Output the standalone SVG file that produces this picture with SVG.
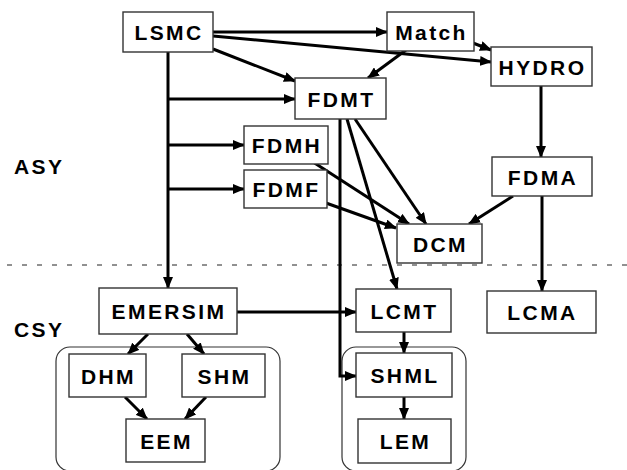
<svg xmlns="http://www.w3.org/2000/svg" width="627" height="470" viewBox="0 0 627 470">
<defs>
<marker id="ah" markerUnits="userSpaceOnUse" markerWidth="12" markerHeight="10" refX="11" refY="5" orient="auto">
<path d="M0,0 L12,5 L0,10 z" fill="#000"/>
</marker>
<style>
.box{fill:#fff;stroke:#333;stroke-width:1.4}
.grp{fill:none;stroke:#333;stroke-width:1.2}
.t{font-family:"Liberation Sans",Arial,sans-serif;font-weight:bold;font-size:21px;letter-spacing:2.4px;text-anchor:middle;fill:#000}
.lbl{font-family:"Liberation Sans",Arial,sans-serif;font-weight:bold;font-size:21px;letter-spacing:2.4px;fill:#000}
.c{fill:none;stroke:#000;stroke-width:3}
.a{marker-end:url(#ah)}
</style>
</defs>
<rect width="627" height="470" fill="#fff"/>
<line x1="7" y1="265" x2="627" y2="265" stroke="#222" stroke-width="1" stroke-dasharray="5 10"/>
<text class="lbl" x="14" y="174">ASY</text>
<text class="lbl" x="14" y="337">CSY</text>
<g id="group-left"><rect class="grp" x="56" y="347" width="224" height="124" rx="14"/></g>
<g id="group-right"><rect class="grp" x="342" y="347" width="124" height="124" rx="14"/></g>
<g id="connectors">
<path class="c a" d="M213,32 L387,32"/>
<path class="c a" d="M213,36 L491,62"/>
<path class="c a" d="M213,49 L295,81"/>
<path class="c a" d="M406,50 L368,78"/>
<path class="c a" d="M473,43 L491,50"/>
<path class="c a" d="M168,52 L168,288"/>
<path class="c a" d="M168,99 L295,99"/>
<path class="c a" d="M168,145 L244,145"/>
<path class="c a" d="M168,189 L244,189"/>
<path class="c a" d="M340,119 L340,376 L356,376"/>
<path class="c a" d="M347,119 L397,289"/>
<path class="c a" d="M355,119 L426,224"/>
<path class="c a" d="M313,162 L409,224"/>
<path class="c a" d="M326,203 L396,228"/>
<path class="c a" d="M513,196 L469,224"/>
<path class="c a" d="M541,86 L541,157"/>
<path class="c a" d="M542,196 L542,291"/>
<path class="c a" d="M237,312 L356,312"/>
<path class="c a" d="M148,334 L128,354"/>
<path class="c a" d="M187,334 L204,354"/>
<path class="c a" d="M125,397 L147,419"/>
<path class="c a" d="M206,397 L185,419"/>
<path class="c a" d="M404,332 L404,353"/>
<path class="c a" d="M404,397 L404,419"/>
</g>
<g id="LSMC"><rect class="box" x="123" y="12" width="90" height="40"/><text class="t" x="169" y="39.5">LSMC</text></g>
<g id="Match"><rect class="box" x="387" y="12" width="87" height="39"/><text class="t" x="431.5" y="39.5">Match</text></g>
<g id="HYDRO"><rect class="box" x="491" y="47" width="101" height="39"/><text class="t" x="542.5" y="74.5">HYDRO</text></g>
<g id="FDMT"><rect class="box" x="295" y="78" width="91" height="41"/><text class="t" x="341.5" y="106.5">FDMT</text></g>
<g id="FDMH"><rect class="box" x="244" y="126" width="84" height="38"/><text class="t" x="287" y="152.5">FDMH</text></g>
<g id="FDMF"><rect class="box" x="244" y="170" width="83" height="38"/><text class="t" x="286.5" y="196.5">FDMF</text></g>
<g id="FDMA"><rect class="box" x="492" y="157" width="100" height="39"/><text class="t" x="543" y="184.5">FDMA</text></g>
<g id="DCM"><rect class="box" x="397" y="224" width="85" height="39"/><text class="t" x="440.5" y="251.5">DCM</text></g>
<g id="EMERSIM"><rect class="box" x="99" y="288" width="138" height="46"/><text class="t" x="169" y="318.5">EMERSIM</text></g>
<g id="LCMT"><rect class="box" x="356" y="289" width="95" height="43"/><text class="t" x="404.5" y="318.5">LCMT</text></g>
<g id="LCMA"><rect class="box" x="487" y="291" width="109" height="42"/><text class="t" x="542.5" y="319.5">LCMA</text></g>
<g id="DHM"><rect class="box" x="69" y="354" width="77" height="43"/><text class="t" x="108.5" y="383.5">DHM</text></g>
<g id="SHM"><rect class="box" x="182" y="354" width="83" height="43"/><text class="t" x="224.5" y="383.5">SHM</text></g>
<g id="EEM"><rect class="box" x="126" y="419" width="79" height="43"/><text class="t" x="166.5" y="448.5">EEM</text></g>
<g id="SHML"><rect class="box" x="356" y="353" width="96" height="44"/><text class="t" x="405" y="382.5">SHML</text></g>
<g id="LEM"><rect class="box" x="358" y="419" width="93" height="44"/><text class="t" x="405.5" y="448.5">LEM</text></g>
</svg>
